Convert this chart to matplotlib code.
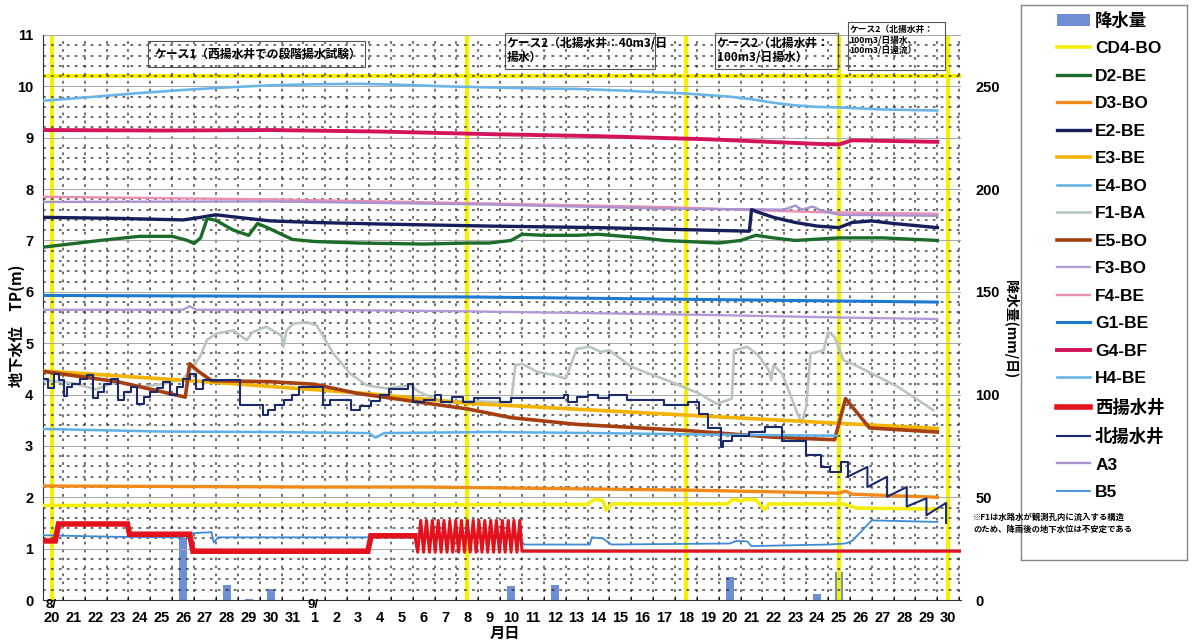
import matplotlib
matplotlib.use('Agg')
import matplotlib.pyplot as plt
from matplotlib.patches import Patch, Rectangle
import numpy as np

plt.rcParams['font.family'] = ['Liberation Sans', 'Noto Sans CJK JP', 'DejaVu Sans']

# ---------------- data ----------------
# x = day index counted from 8/20 (0) ... 9/30 (41)
day_labels = ['20', '21', '22', '23', '24', '25', '26', '27', '28', '29', '30', '31',
              '1', '2', '3', '4', '5', '6', '7', '8', '9', '10', '11', '12', '13', '14',
              '15', '16', '17', '18', '19', '20', '21', '22', '23', '24', '25', '26',
              '27', '28', '29', '30']
day_pos = list(range(len(day_labels)))

rain_t = [6, 8, 9, 10, 21, 23, 31, 35, 36]
rain_mm = [30, 7.5, 0.6, 5.5, 7.0, 7.5, 11.0, 3.0, 13.5]

cd4_t = [-0.4, 24.5, 24.7, 24.9, 25.2, 25.35, 25.6, 30.9, 31.1, 31.3, 31.5, 31.7, 32.2, 32.4,
         32.6, 32.8, 36.2, 36.8, 40.5]
cd4_v = [1.84, 1.86, 1.93, 1.96, 1.93, 1.75, 1.87, 1.87, 1.95, 1.96, 1.92, 1.96, 1.95, 1.85,
         1.76, 1.87, 1.87, 1.79, 1.77]

d2_t = [-0.4, 2.2, 4.0, 5.5, 6.2, 6.5, 6.8, 7.1, 7.5, 8.3, 9.0, 9.4, 9.8, 10.6, 11.0, 12, 14,
        17, 19, 20, 21, 21.5, 22.5, 24, 25, 27, 28, 29, 30.5, 31.5, 32.2, 33, 34, 36, 38, 40.5]
d2_v = [6.87, 7.0, 7.08, 7.08, 7.0, 6.94, 7.05, 7.43, 7.39, 7.2, 7.1, 7.33, 7.26, 7.1, 7.02,
        6.98, 6.95, 6.93, 6.95, 6.95, 7.0, 7.12, 7.1, 7.1, 7.12, 7.05, 7.0, 6.98, 6.95, 7.0,
        7.1, 7.05, 7.0, 7.05, 7.05, 7.0]

d3_t = [-0.4, 12, 17, 29, 36, 36.3, 36.6, 40.5]
d3_v = [2.22, 2.2, 2.2, 2.14, 2.08, 2.12, 2.06, 2.0]

e2_t = [-0.4, 3, 6, 6.8, 7.5, 8.5, 10, 12, 15, 20, 25, 30, 31.9, 32.0, 32.3, 33, 34, 35, 36,
        36.6, 37.5, 38.5, 40.5]
e2_v = [7.45, 7.43, 7.4, 7.45, 7.5, 7.45, 7.38, 7.35, 7.32, 7.28, 7.25, 7.2, 7.18, 7.6, 7.55,
        7.45, 7.35, 7.28, 7.25, 7.35, 7.38, 7.33, 7.25]

e3_t = [-0.4, 7, 14.4, 19, 29, 36, 40.5]
e3_v = [4.46, 4.25, 4.02, 3.83, 3.6, 3.44, 3.34]

e4_t = [-0.4, 5, 10, 14.5, 14.8, 15.2, 20, 25, 30, 35.9]
e4_v = [3.33, 3.28, 3.27, 3.25, 3.16, 3.25, 3.27, 3.25, 3.22, 3.2]

f1_t = [-0.4, 1.0, 2.0, 3.0, 4.0, 5.0, 6.0, 6.47, 6.77, 7.08, 7.53, 8.3, 8.9, 9.2, 9.8, 10.5,
        10.58, 10.73, 11.04, 11.65, 12.1, 12.33, 12.87, 13.63, 14.4, 15.3, 16.4, 16.8, 17.7,
        21.0, 21.1, 21.2, 21.5, 22.2, 22.96, 23.5, 23.7, 24.0, 24.6, 25.1, 25.5, 26.5, 28.3,
        29.6, 30.4, 31.1, 31.2, 31.8, 32.3, 32.8, 32.9, 33.0, 33.4, 34.1, 34.3, 34.5, 34.7,
        35.3, 35.5, 35.8, 36.2, 36.9, 38.7, 40.3]
f1_v = [4.28, 4.22, 4.1, 4.25, 4.15, 4.2, 4.3, 4.57, 4.73, 5.06, 5.19, 5.25, 5.06, 5.22, 5.32,
        5.15, 4.93, 5.25, 5.38, 5.41, 5.35, 5.19, 4.8, 4.41, 4.18, 4.12, 4.18, 4.05, 3.88,
        3.85, 4.21, 4.57, 4.6, 4.44, 4.38, 4.31, 4.54, 4.89, 4.93, 4.83, 4.86, 4.54, 4.25,
        4.02, 3.82, 3.92, 4.86, 4.93, 4.77, 4.47, 4.28, 4.57, 4.41, 3.63, 3.44, 3.76, 4.8,
        4.86, 5.22, 5.12, 4.67, 4.54, 4.15, 3.7]

e5_t = [-0.4, 3, 6.1, 6.3, 6.7, 7.3, 10, 12, 14, 16, 19, 21, 24, 29, 33, 35.8, 36.3, 37.4, 40.5]
e5_v = [4.45, 4.25, 3.95, 4.6, 4.45, 4.27, 4.25, 4.2, 4.02, 3.9, 3.72, 3.55, 3.42, 3.3, 3.17,
        3.12, 3.92, 3.35, 3.27]

f3_t = [-0.4, 6, 6.3, 6.6, 12, 19, 30, 36, 40.5]
f3_v = [5.65, 5.65, 5.72, 5.65, 5.65, 5.62, 5.55, 5.5, 5.47]

f4_t = [-0.4, 10, 20, 28, 35, 40.5]
f4_v = [7.85, 7.8, 7.72, 7.65, 7.55, 7.52]

g1_t = [-0.4, 19, 30, 40.5]
g1_v = [5.93, 5.9, 5.85, 5.8]

g4_t = [-0.4, 5, 10, 15, 20, 25, 30, 35, 36, 36.6, 40.5]
g4_v = [9.15, 9.14, 9.15, 9.12, 9.07, 9.03, 8.97, 8.88, 8.87, 8.95, 8.92]

h4_t = [-0.4, 2, 4, 6, 8, 10, 12, 14, 16, 18, 20, 22, 24, 26, 29, 31, 32, 33, 34, 35, 36, 38, 40.5]
h4_v = [9.72, 9.8, 9.87, 9.93, 9.98, 10.02, 10.04, 10.05, 10.03, 10.0, 9.98, 9.96, 9.95, 9.92,
        9.86, 9.8, 9.75, 9.68, 9.63, 9.6, 9.59, 9.55, 9.53]

nishi_t = [-0.4, 0.15, 0.3, 3.45, 3.55, 6.3, 6.45, 14.45, 14.6, 16.6,
           16.73, 16.87, 17.0, 17.13, 17.27, 17.4, 17.53, 17.67, 17.8, 17.93, 18.07, 18.2,
           18.33, 18.47, 18.6, 18.73, 18.87, 19.0, 19.13, 19.27, 19.4, 19.53, 19.67, 19.8,
           19.93, 20.07, 20.2, 20.33, 20.47, 20.6, 20.73, 20.87, 21.0, 21.13, 21.27, 21.4,
           21.5, 41.6]
nishi_v = [1.15, 1.15, 1.48, 1.48, 1.28, 1.28, 0.95, 0.95, 1.25, 1.25,
           0.93, 1.55, 0.93, 1.55, 0.93, 1.55, 0.93, 1.55, 0.93, 1.55, 0.93, 1.55,
           0.93, 1.55, 0.93, 1.55, 0.93, 1.55, 0.93, 1.55, 0.93, 1.55, 0.93, 1.55,
           0.93, 1.55, 0.93, 1.55, 0.93, 1.55, 0.93, 1.55, 0.93, 1.55, 0.93, 1.55,
           0.95, 0.95]
nishi_osc = (9, 47)   # index range of the stepwise pumping oscillation

kita_step_t = [-0.4, -0.2, 0.1, 0.3, 0.55, 0.7, 0.9, 1.3, 1.6, 1.9, 2.1, 2.4, 2.7, 3.0, 3.3,
               3.6, 3.9, 4.2, 4.5, 4.8, 5.1, 5.4, 5.7, 6.0, 6.3, 6.6, 6.9, 8.6, 9.65, 9.9,
               10.2, 10.6, 11.0, 11.3, 12.4, 12.7, 13.7, 14.1, 14.6, 15.0, 15.4, 16.3, 16.5,
               17.0, 17.5, 17.8, 18.3, 18.8, 19.3, 20.5, 21.0, 23.4, 23.6, 24.0, 24.5, 25.0,
               25.5, 26.3, 26.8, 28.0, 29.1, 29.6, 30.0, 30.6, 30.7, 31.1, 31.9, 32.6, 33.4,
               34.5, 35.2, 35.6, 36.1, 36.4]
kita_step_v = [4.30, 4.12, 4.40, 4.28, 3.97, 4.14, 4.20, 4.30, 4.38, 3.93, 4.05, 4.20, 4.30,
               3.90, 4.05, 4.15, 3.82, 3.95, 4.05, 4.12, 4.25, 4.00, 4.15, 4.30, 4.40, 4.10,
               4.28, 3.80, 3.61, 3.70, 3.79, 3.90, 4.00, 4.15, 3.80, 3.90, 3.70, 3.77, 3.87,
               4.00, 4.10, 4.20, 3.85, 3.90, 4.00, 3.85, 3.95, 3.85, 3.93, 3.85, 3.93, 4.00,
               3.85, 3.95, 4.00, 3.93, 4.00, 3.90, 3.90, 3.80, 3.85, 3.62, 3.35, 2.98, 3.10,
               3.20, 3.28, 3.37, 3.10, 2.82, 2.59, 2.50, 2.69, 2.40]
kita_saw_t = [36.4, 37.3, 37.3, 38.2, 38.2, 39.1, 39.1, 40.0, 40.0, 40.9, 40.9]
kita_saw_v = [2.40, 2.59, 2.20, 2.40, 2.01, 2.20, 1.82, 1.98, 1.65, 1.89, 1.50]

a3_t = [-0.4, 10, 20, 28, 33.5, 34.0, 34.3, 34.8, 35.2, 36, 40.5]
a3_v = [7.75, 7.76, 7.7, 7.62, 7.6, 7.68, 7.6, 7.66, 7.58, 7.5, 7.48]

b5_t = [-0.4, 3, 6, 6.4, 7.3, 7.4, 7.6, 12, 17, 21.4, 21.6, 24.6, 24.7, 25.2, 25.5, 25.6,
        31, 31.3, 31.8, 32.0, 35.5, 36.3, 36.6, 37.5, 40.5]
b5_v = [1.26, 1.23, 1.22, 1.3, 1.32, 1.12, 1.22, 1.22, 1.22, 1.2, 1.08, 1.08, 1.22, 1.2, 1.1,
        1.08, 1.1, 1.15, 1.14, 1.05, 1.08, 1.1, 1.15, 1.55, 1.52]

case_lines = [0, 19, 29, 36, 41]

# ---------------- figure ----------------
W, H = 1192, 643
fig = plt.figure(figsize=(W / 100, H / 100), dpi=100)
ax = fig.add_axes([43 / W, 1 - 600 / H, (961.4 - 43) / W, 565 / H])
ax2 = ax.twinx()
ax.set_zorder(ax2.get_zorder() + 1)
ax.patch.set_visible(False)

ax.set_xlim(-0.41, 41.6)
ax.set_ylim(0, 11)
ax2.set_ylim(0, 275)

# rain bars
rain_color = '#6f8fd4'
ax2.bar(rain_t, rain_mm, width=0.36, color=rain_color, edgecolor='none', zorder=2)

# grid
ax.set_yticks(np.arange(0, 11.01, 1))
ax.set_yticks(np.arange(0, 11.01, 0.2), minor=True)
ax.set_xticks(day_pos)
ax.set_xticklabels(day_labels)
ax.set_xticks(np.arange(0.5, 41.6, 1), minor=True)
ax.grid(which='minor', color='#1a1a1a', linestyle=(0, (1.8, 3.4)), linewidth=1.1, alpha=0.8)
ax.grid(which='major', axis='y', color='#a8a8a8', linestyle='-', linewidth=0.7)

# yellow highlight lines
for xv in case_lines:
    ax.axvline(xv, color='#f7f000', lw=3.0, zorder=1.5)
ax.axhline(10.2, color='#f7f000', lw=3.0, zorder=1.5)

lines = {}
def draw(name, t, v, color, lw, **kw):
    ln, = ax.plot(t, v, color=color, lw=lw, label=name, zorder=3, **kw)
    lines[name] = ln
    return ln

draw('H4-BE', h4_t, h4_v, '#6ab4e6', 1.9)
draw('G4-BF', g4_t, g4_v, '#d4145a', 2.8)
draw('F4-BE', f4_t, f4_v, '#ea8fb2', 1.7)
draw('A3', a3_t, a3_v, '#a892cf', 1.7)
draw('E2-BE', e2_t, e2_v, '#161e5c', 2.4)
draw('D2-BE', d2_t, d2_v, '#1d6b2a', 2.4)
draw('G1-BE', g1_t, g1_v, '#1c7ad2', 2.2)
draw('F3-BO', f3_t, f3_v, '#b49ad6', 1.7)
draw('F1-BA', f1_t, f1_v, '#b9c6bf', 1.9)
draw('E3-BE', e3_t, e3_v, '#f2b400', 2.6)
draw('E5-BO', e5_t, e5_v, '#a53e10', 2.6)
draw('E4-BO', e4_t, e4_v, '#5fb0e6', 1.8)
draw('D3-BO', d3_t, d3_v, '#f08a1a', 2.4)
draw('CD4-BO', cd4_t, cd4_v, '#f5ee0a', 2.6)
draw('B5', b5_t, b5_v, '#3d8bd8', 1.3)
i0, i1 = nishi_osc
nishi_color = '#e3121c'
ax.plot(nishi_t[:i0 + 1], nishi_v[:i0 + 1], color=nishi_color, lw=4.0, zorder=3,
        solid_joinstyle='miter')
ax.plot(nishi_t[i0:i1 + 1], nishi_v[i0:i1 + 1], color=nishi_color, lw=2.2, zorder=3)
ln_n, = ax.plot(nishi_t[i1:], nishi_v[i1:], color=nishi_color, lw=4.0, zorder=3)
lines['西揚水井'] = ln_n
draw('北揚水井', kita_step_t, kita_step_v, '#1b2a6b', 1.5, drawstyle='steps-post')
ax.plot(kita_saw_t, kita_saw_v, color='#1b2a6b', lw=1.5, zorder=3)

# axes styling
for sp in ['top', 'right']:
    ax.spines[sp].set_visible(False)
    ax2.spines[sp].set_visible(False)
ax2.spines['left'].set_visible(False)
ax2.spines['bottom'].set_visible(False)
ax.spines['left'].set_color('#333')
ax.spines['bottom'].set_color('#333')

ax.tick_params(axis='x', which='major', length=0, pad=8, labelsize=10.5)
ax.tick_params(axis='x', which='minor', length=3, direction='in')
ax.tick_params(axis='y', which='major', length=0, pad=7, labelsize=10.5)
ax.tick_params(axis='y', which='minor', length=0)
for lab in ax.get_xticklabels() + ax.get_yticklabels():
    lab.set_fontweight('bold')
ax2.set_yticks([0, 50, 100, 150, 200, 250])
ax2.tick_params(axis='y', length=0, pad=10, labelsize=10.5)
for lab in ax2.get_yticklabels():
    lab.set_fontweight('bold')

# month markers
ax.text(-0.05, -0.1, '8/', ha='center', va='center', fontsize=9.5, fontweight='bold', clip_on=False)
ax.text(11.95, -0.1, '9/', ha='center', va='center', fontsize=9.5, fontweight='bold', clip_on=False)

# axis labels
fig.text(505 / W, 1 - 633 / H, '月日', ha='center', va='center', fontsize=11, fontweight='bold',
         family=['Noto Sans CJK JP'])
fig.text(17 / W, 1 - 326 / H, '地下水位　TP(m)', rotation=90, ha='center', va='center',
         fontsize=11, fontweight='bold', family=['Noto Sans CJK JP'])
fig.text(1010 / W, 1 - 329 / H, '降水量(mm/日)', rotation=-90, ha='center', va='center',
         fontsize=10, fontweight='bold', family=['Noto Sans CJK JP'])

# case annotation boxes (layout positions)
def box(x0, x1, y0, y1):
    ax.add_patch(Rectangle((x0, y0), x1 - x0, y1 - y0, fill=False, edgecolor='#555',
                           lw=0.8, clip_on=False, zorder=4))

box(4.39, 14.32, 10.37, 10.89)
ax.text(9.4, 10.63, 'ケース1（西揚水井での段階揚水試験）', ha='center', va='center', fontsize=8.5,
        fontweight='bold', family=['Noto Sans CJK JP'], zorder=5)
box(20.72, 27.58, 10.33, 11.03)
ax.text(20.8, 10.97, 'ケース2（北揚水井：40m3/日\n揚水）', ha='left', va='top', fontsize=8.5,
        fontweight='bold', family=['Noto Sans CJK JP'], linespacing=1.15, zorder=5)
box(30.33, 35.96, 10.33, 11.03)
ax.text(30.4, 10.97, 'ケース2（北揚水井：\n100m3/日揚水）', ha='left', va='top', fontsize=8.5,
        fontweight='bold', family=['Noto Sans CJK JP'], linespacing=1.15, zorder=5)
box(36.41, 40.85, 10.31, 11.25)
ax.text(36.47, 11.2, 'ケース2（北揚水井：\n100m3/日揚水、\n100m3/日還流）', ha='left', va='top',
        fontsize=6.3, fontweight='bold', family=['Noto Sans CJK JP'], linespacing=1.3,
        zorder=5, clip_on=False)

# note
fig.text(973 / W, 1 - 517 / H, '※F1は水路水が観測孔内に流入する構造', ha='left', va='center',
         fontsize=6.0, family=['Noto Sans CJK JP'], fontweight='bold')
fig.text(973 / W, 1 - 529 / H, 'のため、降雨後の地下水位は不安定である', ha='left', va='center',
         fontsize=6.0, family=['Noto Sans CJK JP'], fontweight='bold')

# legend
frame_ax = fig.add_axes([1021 / W, 1 - 560 / H, 166 / W, 555 / H])
frame_ax.set_xticks([])
frame_ax.set_yticks([])
frame_ax.patch.set_alpha(0)
for sp in frame_ax.spines.values():
    sp.set_color('#888')
    sp.set_linewidth(1.0)

legend_order = ['CD4-BO', 'D2-BE', 'D3-BO', 'E2-BE', 'E3-BE', 'E4-BO', 'F1-BA', 'E5-BO',
                'F3-BO', 'F4-BE', 'G1-BE', 'G4-BF', 'H4-BE', '西揚水井', '北揚水井', 'A3', 'B5']
handles = [Patch(facecolor=rain_color, edgecolor='none')] + [lines[n] for n in legend_order]
labels = ['降水量'] + legend_order
leg = fig.legend(handles, labels, loc='upper left', bbox_to_anchor=(1043 / W, 1 + 2 / H),
                 frameon=False, handlelength=1.9, handletextpad=0.3, labelspacing=0.71,
                 borderpad=0.3, prop=dict(size=12.5, weight='bold',
                                         family=['Liberation Sans', 'Noto Sans CJK JP']))

fig.savefig('out.png', dpi=100)
